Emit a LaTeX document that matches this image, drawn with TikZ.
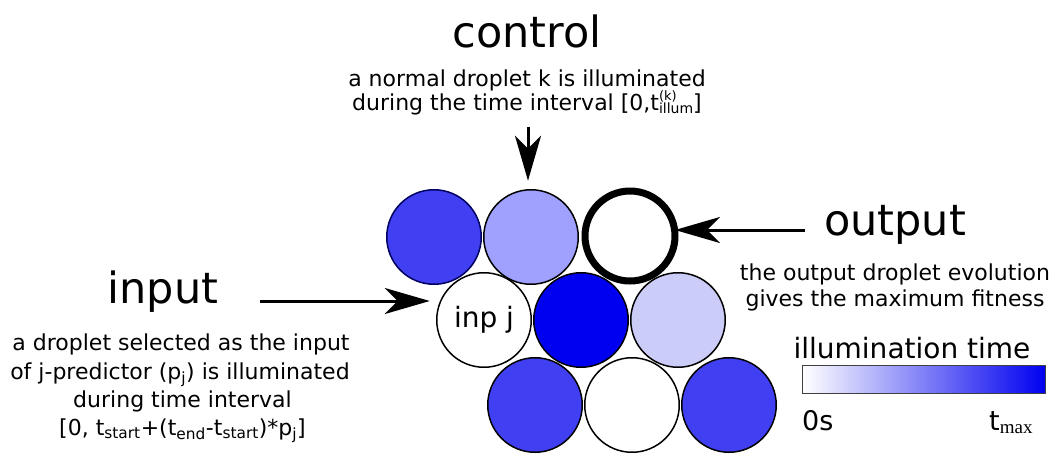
\documentclass[tikz,border=0pt]{standalone}
\usepackage{fontspec}
\setmainfont{DejaVu Sans}
\newfontfamily\subserif{Liberation Serif}
\usetikzlibrary{arrows.meta}

\definecolor{dropmid}{RGB}{64,64,242}
\definecolor{droplight}{RGB}{160,160,255}
\definecolor{droppale}{RGB}{204,204,248}
\definecolor{dropdeep}{RGB}{0,0,240}
\definecolor{dropedge}{RGB}{0,0,96}

% stacked super- and subscript after a symbol
\newcommand\supsub[2]{\rlap{\raisebox{0.42em}{\fontsize{13}{14}\selectfont #1}}\raisebox{-0.16em}{\fontsize{14}{15}\selectfont #2}}

\tikzset{
  droplet/.style={circle, draw=black, line width=1.5pt, minimum size=94.5pt,
                  inner sep=0pt, outer sep=0pt, font=\fontsize{28}{32}\selectfont},
  outdrop/.style={droplet, line width=7pt, minimum size=90pt},
  title/.style={anchor=base, inner sep=0pt, font=\fontsize{43}{50}\selectfont},
  note/.style={anchor=base, inner sep=0pt, font=\fontsize{22}{26}\selectfont},
  pointer/.style={line width=3pt, -{Stealth[length=45pt, width=26pt, inset=13pt]}},
}

\begin{document}
\begin{tikzpicture}[x=1pt, y=-1pt]
\useasboundingbox (0,0) rectangle (1058,456);

% droplet array
\node[droplet, fill=dropmid, draw=dropedge] (c1) at (434,237) {};
\node[droplet, fill=droplight]              (c2) at (531,237) {};
\node[outdrop, fill=white]                  (c3) at (630,236) {};
\node[droplet, fill=white]                  (c4) at (484,320) {inp j};
\node[droplet, fill=dropdeep]               (c5) at (581,320) {};
\node[droplet, fill=droppale]               (c6) at (678,320) {};
\node[droplet, fill=dropmid]                (c7) at (535,405) {};
\node[droplet, fill=white]                  (c8) at (632,405) {};
\node[droplet, fill=dropmid]                (c9) at (729,405) {};

% control
\node[title] (ctl) at (527,47) {control};
\node[note] (ctl1) at (527,86) {a normal droplet k is illuminated};
\node[note] (ctl2) at (527,110) {during the time interval [0,t\supsub{(k)}{illum}]};
\coordinate (ctlstart) at (528,127);
\draw[pointer, shorten >=9pt] (ctlstart) -- (ctlstart |- c2.north);

% input
\node[title] (inp) at (163,303) {input};
\node[note] (inp1) at (181,350.5) {a droplet selected as the input};
\node[note] (inp2) at (180,379) {of j-predictor (p\textsubscript{j}) is illuminated};
\node[note] (inp3) at (182.5,407) {during time interval};
\node[note] (inp4) at (182.5,435) {[0, t\textsubscript{start}+(t\textsubscript{end}-t\textsubscript{start})*p\textsubscript{j}]};
\coordinate (inpstart) at (260,301);
\draw[pointer, shorten >=7pt] (inpstart) -- (inpstart -| c4.west);

% output
\node[title] (out) at (895,235) {output};
\node[note] (out1) at (895,280.5) {the output droplet evolution};
\node[note] (out2) at (895,306.5) {gives the maximum fitness};
\coordinate (outstart) at (805,230);
\draw[pointer] (outstart) -- (outstart -| c3.east);

% illumination scale
\node[anchor=base, inner sep=0pt, font=\fontsize{28}{32}\selectfont] (lgd) at (912,358) {illumination time};
\node[anchor=north west, draw=black!75, line width=1pt, left color=white, right color=dropdeep,
      minimum width=243pt, minimum height=28pt, inner sep=0pt] (bar) at (802,365) {};
\node[anchor=base west, inner sep=0pt, font=\fontsize{27}{30}\selectfont] (zero) at (802,430) {0s};
\node[anchor=base west, inner sep=0pt, font=\fontsize{27}{30}\selectfont] (tmax) at (989,430)
  {t\raisebox{-3pt}{\subserif\fontsize{19}{22}\selectfont max}};
\end{tikzpicture}
\end{document}
